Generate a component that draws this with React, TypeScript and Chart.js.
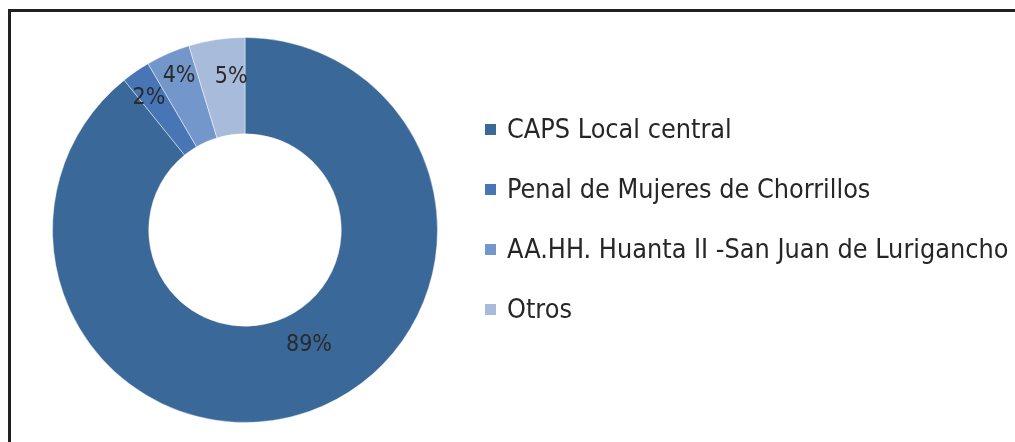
import React, { useEffect, useRef } from 'react';
import { Chart, registerables } from 'chart.js';

Chart.register(...registerables);

// ---- data ----
const categories = [
  'CAPS Local central',
  'Penal de Mujeres de Chorrillos',
  'AA.HH. Huanta II -San Juan de Lurigancho',
  'Otros',
];
const shares = [89.2, 2.4, 3.7, 4.7];
const sliceColors = ['#3A6899', '#4775B5', '#7497CB', '#A8BBDB'];

// label placement tuning (fraction of ring thickness, angle nudge in degrees)
const labelRadiusFrac = [0.37, 0.7, 0.74, 0.6];
const labelAngleNudge = [-9.6, -1.4, 0.4, 3.3];

const FONT = "'DejaVu Sans Condensed', 'DejaVu Sans', sans-serif";

const sliceLabels = {
  id: 'sliceLabels',
  afterDatasetsDraw(chart: any) {
    const ctx = chart.ctx;
    const meta = chart.getDatasetMeta(0);
    const values = chart.data.datasets[0].data as number[];
    ctx.save();
    ctx.font = `23px ${FONT}`;
    ctx.fillStyle = '#2a2a2a';
    ctx.textAlign = 'center';
    ctx.textBaseline = 'middle';
    meta.data.forEach((arc: any, i: number) => {
      const { x, y, startAngle, endAngle, innerRadius, outerRadius } = arc.getProps(
        ['x', 'y', 'startAngle', 'endAngle', 'innerRadius', 'outerRadius'],
        true
      );
      const mid = (startAngle + endAngle) / 2 + (labelAngleNudge[i] * Math.PI) / 180;
      const r = innerRadius + (outerRadius - innerRadius) * labelRadiusFrac[i];
      ctx.fillText(`${Math.round(values[i])}%`, x + r * Math.cos(mid), y + r * Math.sin(mid));
    });
    ctx.restore();
  },
};

export default function App() {
  const canvasRef = useRef<HTMLCanvasElement | null>(null);

  useEffect(() => {
    if (!canvasRef.current) return;
    const chart = new Chart(canvasRef.current, {
      type: 'doughnut',
      data: {
        labels: categories,
        datasets: [
          {
            data: shares,
            backgroundColor: sliceColors,
            borderColor: 'rgba(255,255,255,0.45)',
            borderWidth: 1,
            hoverOffset: 0,
          },
        ],
      },
      options: {
        responsive: false,
        animation: false,
        cutout: '50%',
        layout: { padding: { left: 52, top: 37, bottom: 19, right: 577 } },
        plugins: {
          legend: { display: false },
          tooltip: { enabled: false },
        },
      },
      plugins: [sliceLabels],
    });
    return () => chart.destroy();
  }, []);

  return (
    <div
      style={{
        position: 'fixed',
        left: 0,
        top: 0,
        width: 1015,
        height: 442,
        overflow: 'hidden',
        background: '#ffffff',
      }}
    >
      <canvas
        ref={canvasRef}
        width={1015}
        height={442}
        style={{ position: 'absolute', left: 0, top: 0, display: 'block' }}
      />
      <div
        style={{
          position: 'absolute',
          left: 8,
          top: 9,
          width: 1100,
          height: 500,
          border: '3px solid #231f20',
          boxSizing: 'border-box',
          pointerEvents: 'none',
        }}
      />
      {categories.map((name, i) => (
        <div
          key={name}
          style={{
            position: 'absolute',
            left: 485,
            top: 116 + 60 * i,
            height: 26,
            display: 'flex',
            alignItems: 'center',
            whiteSpace: 'nowrap',
            fontFamily: FONT,
            fontSize: 26.75,
            lineHeight: '26px',
            color: '#262626',
          }}
        >
          <span
            style={{
              display: 'inline-block',
              width: 11,
              height: 11,
              background: sliceColors[i],
              marginRight: 11,
              flex: 'none',
            }}
          />
          <span>{name}</span>
        </div>
      ))}
    </div>
  );
}
